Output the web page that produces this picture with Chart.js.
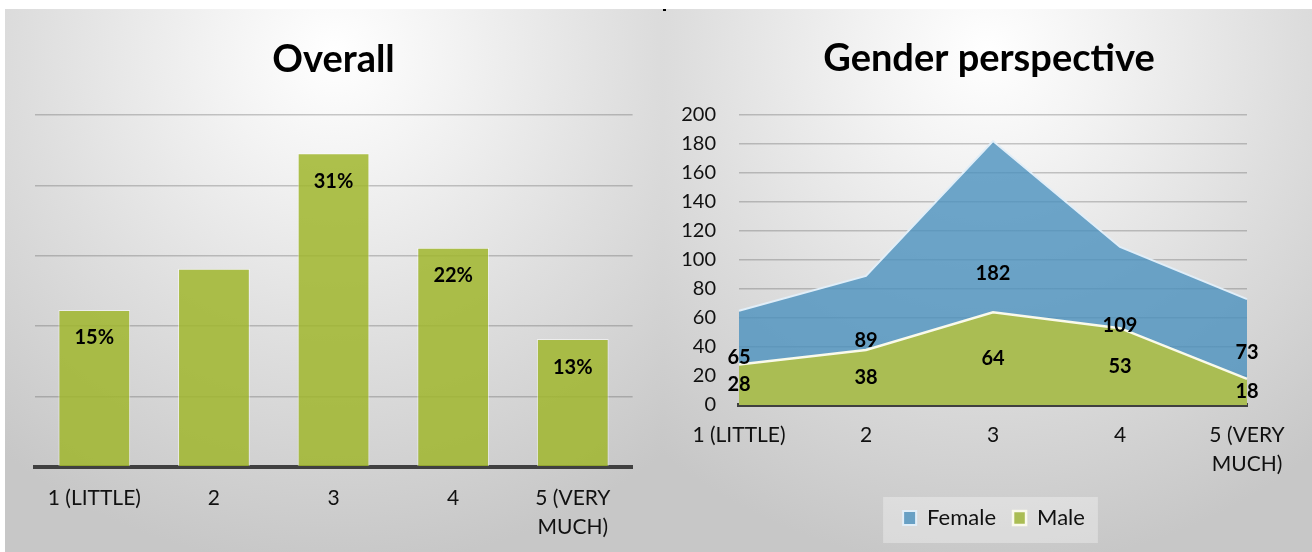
<!DOCTYPE html>
<html>
<head>
<meta charset="utf-8">
<script src="https://cdn.jsdelivr.net/npm/chart.js@4.4.1/dist/chart.umd.min.js"></script>
<style>
  html, body { margin: 0; padding: 0; background: #ffffff; }
  body { width: 1312px; height: 552px; position: relative; overflow: hidden; }
  .panel { position: absolute; top: 9px; height: 543px;
    background: radial-gradient(ellipse 80% 95% at 50% 8%, #ffffff 0%, #f3f3f3 22%, #dedede 58%, #c7c7c7 100%); }
  #p1 { left: 5px; width: 658px; }
  #p2 { left: 663px; width: 649px; }
  canvas { position: absolute; top: 0; left: 0; }
  #mark { position: absolute; left: 663px; top: 9px; width: 3px; height: 2px; background: #000; }
</style>
</head>
<body>
<div class="panel" id="p1"><canvas id="c1" width="650" height="543"></canvas></div>
<div class="panel" id="p2"><canvas id="c2" width="649" height="543"></canvas></div>
<div id="mark"></div>
<script>
// ---- data ----
const categories = ['1 (LITTLE)', '2', '3', '4', ['5 (VERY', 'MUCH)']];
const overallValues = [15.6, 19.7, 31.2, 21.8, 12.7];
const overallLabels = ['15%', '', '31%', '22%', '13%'];
const overallAxis = { min: 0, max: 35, step: 7 };
const femaleValues = [65, 89, 182, 109, 73];
const maleValues = [28, 38, 64, 53, 18];
const genderAxis = { min: 0, max: 200, step: 20 };
const seriesNames = ['Female', 'Male'];

const FONT = 'Lato, "Open Sans", sans-serif';
const gridColor = 'rgba(80,80,80,0.3)';

const valueLabels = {
  id: 'valueLabels',
  afterDatasetsDraw(chart, args, opts) {
    const ctx = chart.ctx;
    ctx.save();
    ctx.font = 'bold 20px ' + FONT;
    ctx.fillStyle = '#000';
    ctx.textAlign = 'center';
    ctx.textBaseline = 'middle';
    chart.data.datasets.forEach((ds, di) => {
      const meta = chart.getDatasetMeta(di);
      meta.data.forEach((el, i) => {
        const text = ds.labelTexts ? ds.labelTexts[i] : String(ds.data[i]);
        if (!text) return;
        const y = opts.mode === 'bar'
          ? el.y + opts.offset
          : chart.scales.y.getPixelForValue(ds.data[i] / 2);
        ctx.fillText(text, el.x, y);
      });
    });
    ctx.restore();
  }
};

// shifts full-width boxes (title / legend) so they are centred like the reference
const boxShift = {
  id: 'boxShift',
  afterLayout(chart, args, opts) {
    if (chart.titleBlock && opts.title) { chart.titleBlock.left += opts.title; chart.titleBlock.right += opts.title; }
    if (chart.legend && opts.legend) { chart.legend.left += opts.legend; chart.legend.right += opts.legend; }
  }
};

const legendBg = {
  id: 'legendBg',
  beforeDraw(chart) {
    const lg = chart.legend;
    if (!lg || !lg.legendHitBoxes || !lg.legendHitBoxes.length) return;
    const hb = lg.legendHitBoxes;
    const left = Math.min(...hb.map(h => h.left)) - 20;
    const right = Math.max(...hb.map(h => h.left + h.width)) + 13;
    const ctx = chart.ctx;
    ctx.save();
    ctx.fillStyle = 'rgba(255,255,255,0.32)';
    ctx.fillRect(left, lg.top + 7, right - left, 46);
    ctx.restore();
  }
};

// ---- chart 1: Overall ----
new Chart(document.getElementById('c1'), {
  type: 'bar',
  data: {
    labels: categories,
    datasets: [{
      data: overallValues,
      labelTexts: overallLabels,
      backgroundColor: 'rgba(160,182,45,0.85)',
      borderColor: 'rgba(255,255,255,0.55)',
      borderWidth: 1,
      barPercentage: 0.6,
      categoryPercentage: 1.0
    }]
  },
  options: {
    responsive: false,
    animation: false,
    devicePixelRatio: 1,
    layout: { padding: { left: 29.5, right: 22.4, top: 0, bottom: 0 } },
    plugins: {
      legend: { display: false },
      tooltip: { enabled: false },
      title: {
        display: true, text: 'Overall', color: '#000',
        font: { family: FONT, size: 38, weight: 'bold', lineHeight: 1.2 },
        padding: { top: 27.5, bottom: 32.9 }
      },
      valueLabels: { mode: 'bar', offset: 28 }
    },
    scales: {
      x: {
        grid: { display: false, drawTicks: false },
        border: { display: true, color: '#404040', width: 4 },
        ticks: { color: '#111', padding: 17, font: { family: FONT, size: 21, lineHeight: 1.38 }, maxRotation: 0, autoSkip: false },
        afterFit(s) { s.height = 85.3; }
      },
      y: {
        min: overallAxis.min, max: overallAxis.max,
        ticks: { display: false, stepSize: overallAxis.step },
        grid: { color: gridColor, lineWidth: 1.5, drawTicks: false },
        border: { display: false },
        afterFit(s) { s.width = 0; }
      }
    }
  },
  plugins: [valueLabels]
});

// ---- chart 2: Gender perspective ----
new Chart(document.getElementById('c2'), {
  type: 'line',
  data: {
    labels: categories,
    datasets: [{
      label: seriesNames[0],
      data: femaleValues,
      fill: 'origin',
      backgroundColor: 'rgba(75,145,190,0.8)',
      borderColor: 'rgba(225,238,248,1)',
      borderWidth: 2,
      pointRadius: 0,
      tension: 0,
      order: 2
    }, {
      label: seriesNames[1],
      data: maleValues,
      fill: 'origin',
      backgroundColor: '#AABD53',
      borderColor: 'rgba(250,250,235,1)',
      borderWidth: 2.5,
      pointRadius: 0,
      tension: 0,
      order: 1
    }]
  },
  options: {
    responsive: false,
    animation: false,
    devicePixelRatio: 1,
    layout: { padding: { left: 0, right: 65, top: 0, bottom: 13 } },
    plugins: {
      tooltip: { enabled: false },
      title: {
        display: true, text: 'Gender perspective', color: '#000',
        font: { family: FONT, size: 38, weight: 'bold', lineHeight: 1.2 },
        padding: { top: 26.5, bottom: 33.9 }
      },
      legend: {
        position: 'bottom',
        labels: {
          color: '#111',
          font: { family: FONT, size: 22 },
          boxWidth: 13, boxHeight: 14, padding: 17,
          sort: (a, b) => a.datasetIndex - b.datasetIndex
        }
      },
      boxShift: { title: 34, legend: 39 },
      valueLabels: { mode: 'area' }
    },
    scales: {
      x: {
        offset: false,
        grid: { display: false, drawTicks: false },
        border: { display: true, color: '#404040', width: 4 },
        ticks: { color: '#111', padding: 16, font: { family: FONT, size: 21, lineHeight: 1.38 }, maxRotation: 0, autoSkip: false },
        afterFit(s) { s.height = 85; }
      },
      y: {
        min: genderAxis.min, max: genderAxis.max,
        ticks: { stepSize: genderAxis.step, color: '#111', padding: 23, font: { family: FONT, size: 20 } },
        grid: { color: gridColor, lineWidth: 1.5, drawTicks: false },
        border: { display: false },
        afterFit(s) { s.width = 76; }
      }
    }
  },
  plugins: [valueLabels, boxShift, legendBg]
});
</script>
</body>
</html>
